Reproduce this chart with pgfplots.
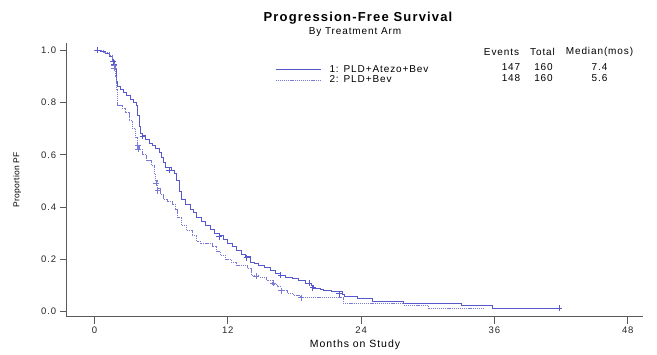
\documentclass[border=0pt]{standalone}
\usepackage{fontspec}
\setmainfont{Liberation Sans}[LetterSpace=9]
\newfontfamily\ylabfont{Liberation Sans}[LetterSpace=2]
\usepackage{pgfplots}
\pgfplotsset{compat=1.18}
\definecolor{kmblue}{RGB}{88,88,205}
\definecolor{axgray}{RGB}{90,90,90}
\begin{document}
\begin{tikzpicture}
\path[use as bounding box] (-66.7pt,-37.3pt) rectangle (590.3pt,316.7pt);
\begin{axis}[
  at={(0pt,0pt)}, anchor=south west,
  scale only axis, width=576.6pt, height=273.7pt,
  xmin=-2.5, xmax=49.4, ymin=-0.019, ymax=1.027,
  axis lines*=left,
  axis line style={axgray, line width=0.8pt},
  xtick={0,12,24,36,48},
  ytick={0,0.2,0.4,0.6,0.8,1},
  yticklabel style={/pgf/number format/fixed, /pgf/number format/fixed zerofill, /pgf/number format/precision=1},
  /pgf/number format/assume math mode=true,
  tick align=outside, major tick length=7pt,
  tick style={axgray, line width=0.8pt},
  ticklabel style={font=\fontsize{9.5}{11}\selectfont, text=black!85},
  xlabel={Months on Study}, ylabel={Proportion PF},
  every axis x label/.style={at={(axis description cs:0.5,-0.1034)}, anchor=center, font=\fontsize{10.5}{12}\selectfont},
  every axis y label/.style={at={(axis description cs:-0.086,0.5)}, rotate=90, anchor=center, font=\fontsize{8.5}{10}\ylabfont},
  legend style={draw=none, fill=none, inner sep=0pt, at={(axis description cs:0.3613,0.924)}, anchor=north west, font=\fontsize{10}{12}\selectfont, row sep=-1pt, nodes={inner sep=1.5pt}},
  legend cell align=left,
  legend image code/.code={\draw[#1] (0pt,0pt) -- (45pt,0pt); \path (52pt,0pt);},
  clip=false,
]
\addplot[const plot, kmblue, line width=0.8pt] coordinates {
(0,1.0) (0.5,0.994) (1.0,0.988) (1.3,0.975) (1.6,0.962) (1.8,0.944) (1.9,0.925)
(2.0,0.88) (2.1,0.86) (2.3,0.85) (2.6,0.84) (2.9,0.825) (3.2,0.81) (3.5,0.80)
(3.8,0.79) (3.9,0.75) (4.0,0.71) (4.1,0.68) (4.3,0.672) (4.6,0.66) (4.9,0.645)
(5.2,0.635) (5.5,0.625) (5.8,0.61) (6.0,0.59) (6.2,0.57) (6.4,0.55) (6.9,0.54)
(7.2,0.53) (7.4,0.50) (7.6,0.46) (7.8,0.43) (8.2,0.41) (8.6,0.39) (8.9,0.38)
(9.2,0.36) (9.6,0.345) (10.0,0.33) (10.4,0.315) (10.8,0.30) (11.2,0.29)
(11.6,0.275) (12.0,0.26) (12.4,0.25) (12.8,0.235) (13.2,0.22) (13.6,0.21)
(14.0,0.19) (14.4,0.183) (14.8,0.177) (15.3,0.168) (15.8,0.158) (16.3,0.148)
(16.7,0.140) (17.2,0.133) (17.8,0.128) (18.4,0.12) (19.0,0.11) (19.5,0.10)
(19.7,0.09) (20.3,0.085) (20.6,0.08) (21.3,0.076) (22.3,0.065) (22.5,0.06)
(23.7,0.052) (25.0,0.041) (27.8,0.032) (33.0,0.024) (35.8,0.013) (41.85,0.013)
};
\addlegendentry{1: PLD+Atezo+Bev}
\addplot[const plot, kmblue!80, line width=0.8pt, dash pattern=on 1.2pt off 0.9pt] coordinates {
(0,1.0) (0.8,0.99) (1.3,0.98) (1.6,0.96) (1.8,0.936) (1.9,0.90) (2.0,0.85)
(2.1,0.79) (2.5,0.777) (2.8,0.76) (3.1,0.73) (3.4,0.70) (3.7,0.665) (3.85,0.637)
(4.0,0.62) (4.3,0.60) (4.7,0.58) (5.1,0.56) (5.4,0.53) (5.5,0.50) (5.65,0.47)
(5.9,0.45) (6.2,0.43) (6.6,0.42) (7.0,0.41) (7.3,0.39) (7.5,0.36) (7.8,0.33)
(8.3,0.31) (8.8,0.29) (9.2,0.27) (9.5,0.26) (10.6,0.25) (11.0,0.23) (11.3,0.215)
(11.8,0.20) (12.3,0.19) (12.8,0.178) (13.8,0.166) (14.1,0.14) (14.8,0.13)
(15.5,0.12) (16.0,0.105) (16.5,0.095) (16.8,0.08) (17.4,0.07) (17.9,0.062)
(18.5,0.054) (22.4,0.032) (27.9,0.023) (30.1,0.013) (35.1,0.013)
};
\addlegendentry{2: PLD+Bev}
\addplot[only marks, mark=+, mark size=3pt, kmblue, line width=0.7pt, forget plot] coordinates {
(0.3,1.0) (1.7,0.955) (1.75,0.944) (4.35,0.671) (6.75,0.541) (11.25,0.287)
(13.7,0.206) (16.75,0.140) (19.35,0.108) (19.65,0.092) (22.05,0.069) (41.85,0.013)
};
\addplot[only marks, mark=+, mark size=3pt, kmblue!80, line width=0.7pt, forget plot] coordinates {
(1.75,0.94) (1.8,0.93) (3.9,0.635) (3.95,0.62) (5.55,0.491) (5.7,0.462)
(14.55,0.136) (16.1,0.108) (16.8,0.08) (18.6,0.054)
};
\end{axis}
\node[font=\fontsize{13}{15}\bfseries] at (291.3pt,298.7pt) {Progression-Free Survival};
\node[font=\fontsize{10}{12}\selectfont] at (288.3pt,284.7pt) {By Treatment Arm};
\begin{scope}[every node/.style={font=\fontsize{10}{12}\selectfont, inner sep=0pt}]
\node at (434.8pt,264.7pt) {Events};
\node at (475.8pt,264.7pt) {Total};
\node at (532.8pt,264.7pt) {Median(mos)};
\node at (444.3pt,249.7pt) {147};
\node at (476.8pt,249.7pt) {160};
\node at (532.8pt,249.7pt) {7.4};
\node at (444.3pt,238.7pt) {148};
\node at (476.8pt,238.7pt) {160};
\node at (532.8pt,238.7pt) {5.6};
\end{scope}
\end{tikzpicture}
\end{document}
